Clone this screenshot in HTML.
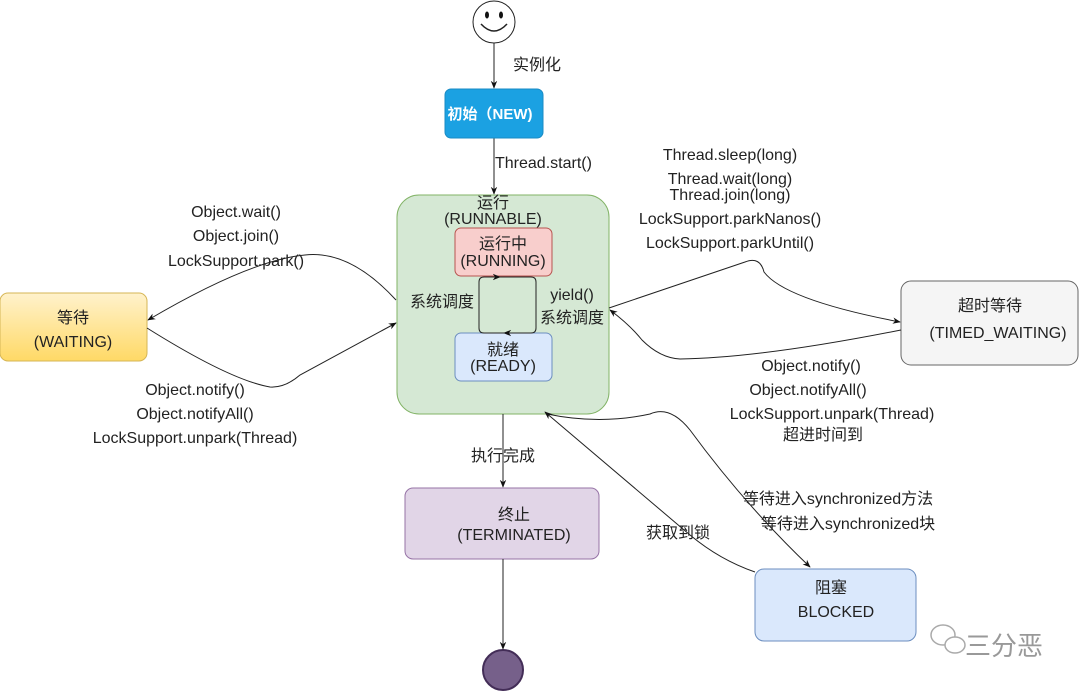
<!DOCTYPE html>
<html><head><meta charset="utf-8"><style>
body{margin:0;background:#fff;width:1080px;height:691px;overflow:hidden}
text{font-family:"Liberation Sans","Noto Sans CJK SC",sans-serif;font-size:16px;fill:#222}
</style></head><body>
<svg width="1080" height="691" viewBox="0 0 1080 691" xmlns="http://www.w3.org/2000/svg">
<defs>
<marker id="a" viewBox="0 0 10 10" refX="9" refY="5" markerWidth="8" markerHeight="8" orient="auto"><path d="M0,1 L10,5 L0,9 L3,5 z" fill="#111"/></marker>
<linearGradient id="y" x1="0" y1="0" x2="0" y2="1"><stop offset="0" stop-color="#fff2cc"/><stop offset="1" stop-color="#ffd966"/></linearGradient>
</defs>
<g fill="none" stroke="#222" stroke-width="1">
<circle cx="494" cy="22" r="21" fill="#fff"/>
<path d="M481,24 Q494,38 507,24" stroke-width="1.5"/>
</g>
<ellipse cx="487" cy="15" rx="2" ry="3.5" fill="#111"/><ellipse cx="501" cy="15" rx="2" ry="3.5" fill="#111"/>
<g fill="none" stroke="#222" stroke-width="1">
<path d="M494,43 L494,88" marker-end="url(#a)"/>
<path d="M494,138 L494,194" marker-end="url(#a)"/>
</g>
<rect x="445" y="89" width="98" height="49" rx="6" fill="#1ba1e2" stroke="#1a8bc4"/>
<text x="490" y="119" text-anchor="middle" style="fill:#fff;font-weight:bold;font-size:15px">初始（NEW)</text>
<text x="513" y="70">实例化</text>
<text x="495" y="168">Thread.start()</text>

<rect x="397" y="195" width="212" height="219" rx="22" fill="#d5e8d4" stroke="#82b366"/>
<text x="493" y="208" text-anchor="middle">运行</text>
<text x="493" y="224" text-anchor="middle">(RUNNABLE)</text>
<rect x="455" y="228" width="97" height="48" rx="6" fill="#f8cecc" stroke="#b85450"/>
<text x="503" y="249" text-anchor="middle">运行中</text>
<text x="503" y="266" text-anchor="middle">(RUNNING)</text>
<rect x="455" y="333" width="97" height="48" rx="6" fill="#dae8fc" stroke="#6c8ebf"/>
<text x="503" y="355" text-anchor="middle">就绪</text>
<text x="503" y="371" text-anchor="middle">(READY)</text>
<g fill="none" stroke="#222" stroke-width="1">
<path d="M505,333 L484,333 Q479,333 479,328 L479,282 Q479,277 484,277 L500,277" marker-end="url(#a)"/>
<path d="M500,277 L531,277 Q536,277 536,282 L536,328 Q536,333 531,333 L504,333" marker-end="url(#a)"/>
</g>
<text x="442" y="307" text-anchor="middle">系统调度</text>
<text x="572" y="300" text-anchor="middle">yield()</text>
<text x="572" y="323" text-anchor="middle">系统调度</text>

<rect x="0" y="293" width="147" height="68" rx="8" fill="url(#y)" stroke="#d6b656"/>
<text x="73" y="323" text-anchor="middle">等待</text>
<text x="73" y="347" text-anchor="middle">(WAITING)</text>
<rect x="901" y="281" width="177" height="84" rx="10" fill="#f5f5f5" stroke="#666"/>
<text x="990" y="311" text-anchor="middle">超时等待</text>
<text x="998" y="338" text-anchor="middle">(TIMED_WAITING)</text>
<rect x="405" y="488" width="194" height="71" rx="8" fill="#e1d5e7" stroke="#9673a6"/>
<text x="514" y="520" text-anchor="middle">终止</text>
<text x="514" y="540" text-anchor="middle">(TERMINATED)</text>
<rect x="755" y="569" width="161" height="72" rx="9" fill="#dae8fc" stroke="#6c8ebf"/>
<text x="831" y="593" text-anchor="middle">阻塞</text>
<text x="836" y="617" text-anchor="middle">BLOCKED</text>
<circle cx="503" cy="670" r="20" fill="#76608a" stroke="#432d57" stroke-width="2"/>

<g fill="none" stroke="#222" stroke-width="1">
<path d="M503,414 L503,487" marker-end="url(#a)"/>
<path d="M503,559 L503,649" marker-end="url(#a)"/>
<path d="M396,300 Q350,250 305,255 Q250,260 148,320" marker-end="url(#a)"/>
<path d="M147,328 Q230,380 270,387 Q285,388 300,375 L396,323" marker-end="url(#a)"/>
<path d="M609,308 L745,262 Q760,256 764,272 Q785,300 900,322" marker-end="url(#a)"/>
<path d="M901,330 Q760,358 680,359 Q660,358 642,340 Q630,325 610,310" marker-end="url(#a)"/>
<path d="M547,414 Q600,425 650,414 Q670,405 690,430 Q745,505 810,567" marker-end="url(#a)"/>
<path d="M755,572 Q720,560 690,535 L545,412" marker-end="url(#a)"/>
</g>
<text x="503" y="461" text-anchor="middle">执行完成</text>
<g text-anchor="middle">
<text x="236" y="217">Object.wait()</text>
<text x="236" y="241">Object.join()</text>
<text x="236" y="266">LockSupport.park()</text>
<text x="195" y="395">Object.notify()</text>
<text x="195" y="419">Object.notifyAll()</text>
<text x="195" y="443">LockSupport.unpark(Thread)</text>
<text x="730" y="160">Thread.sleep(long)</text>
<text x="730" y="184">Thread.wait(long)</text>
<text x="730" y="200">Thread.join(long)</text>
<text x="730" y="224">LockSupport.parkNanos()</text>
<text x="730" y="248">LockSupport.parkUntil()</text>
<text x="811" y="371">Object.notify()</text>
<text x="808" y="395">Object.notifyAll()</text>
<text x="832" y="419">LockSupport.unpark(Thread)</text>
<text x="823" y="440">超进时间到</text>
<text x="838" y="504">等待进入synchronized方法</text>
<text x="848" y="529">等待进入synchronized块</text>
<text x="678" y="538">获取到锁</text>
</g>
<g fill="#fff" stroke="#aaa" stroke-width="1.5">
<ellipse cx="943" cy="635" rx="12" ry="10"/>
<ellipse cx="955" cy="645" rx="10" ry="8"/>
</g>
<text x="965" y="655" style="font-size:26px;fill:#999">三分恶</text>
</svg>
</body></html>
